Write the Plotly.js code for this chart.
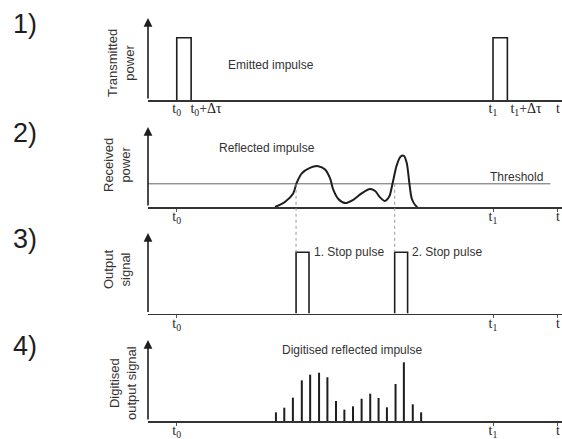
<!DOCTYPE html>
<html><head><meta charset="utf-8">
<script src="https://cdn.plot.ly/plotly-3.0.1.min.js"></script>
<style>html,body{margin:0;padding:0;background:#fff}#chart{width:562px;height:439px}</style>
</head><body><div id="chart"></div>
<script>
// ---- data (time in arbitrary units, signal in % of panel height) ----
const tRange = [0, 144];
const emitStarts = [10, 120];
const emitWidth = 5;
const emitHeight = 76;

const recvT = [44.2, 47.7, 50.5, 51.7, 53.5, 56.3, 59.2, 61.6, 63.3, 64.5, 66.2, 68.5, 71.4, 74.3, 77.2, 79.0, 80.7, 82.4, 83.9, 85.1, 86.5, 87.9, 89.0, 90.0, 90.9, 91.7, 92.9, 93.7];
const recvP = [0, 6.6, 17, 30, 42, 49, 51, 47, 36, 21, 10, 5, 9, 17, 22.5, 20, 12, 7.5, 13, 30, 52, 63, 64, 55, 30, 11, 2.5, 0];
const threshold = 29;
const thresholdEnd = 140;

const stopStarts = [51.5, 85.8];
const stopWidth = 4.5;
const stopHeight = 76;
const stopLabels = ['1. Stop pulse', '2. Stop pulse'];

const sampleT = [44.5, 47.4, 50.4, 53.5, 56.4, 59.5, 62.4, 65.4, 68.3, 71.3, 74.3, 77.3, 80.2, 83.1, 86.1, 89.0, 92.1, 95.0];
const sampleV = [10.7, 16.4, 28.8, 50.2, 57.2, 59.6, 54, 24.7, 14, 18.1, 27.5, 33.7, 28.4, 16.9, 45.7, 72.5, 20.6, 10.7];

const tick1Vals = [10, 20.2, 120, 131.5, 142.6];
const tick1Text = ['t<sub>0</sub>', 't<sub>0</sub>+Δτ', 't<sub>1</sub>', 't<sub>1</sub>+Δτ', 't'];
const tickVals = [10, 120, 142.6];
const tickText = ['t<sub>0</sub>', 't<sub>1</sub>', 't'];

const panelLabels = ['1)', '2)', '3)', '4)'];
const yTitles = ['Transmitted<br>power', 'Received<br>power', 'Output<br>signal', 'Digitised<br>output signal'];
const notes = ['Emitted impulse', 'Reflected impulse', 'Threshold', 'Digitised reflected impulse'];

// ---- layout helpers ----
const W = 562, H = 439, L = 148, R = 0;
const PW = W - L - R;
const px = p => (p - L) / PW;
const py = p => 1 - p / H;
// panel vertical extents in pixels [top, baseline]
const panels = [[18, 100], [127, 207], [233, 313.5], [340, 421]];
const domains = panels.map(p => [py(p[1]), py(p[0])]);
const yPaper = (i, v) => domains[i][0] + v / 100 * (domains[i][1] - domains[i][0]);

function pulsePath(starts, w, h) {
  const x = [], y = [];
  starts.forEach(s => { x.push(s, s, s + w, s + w, null); y.push(0, h, h, 0, null); });
  return {x, y};
}

const ink = '#1e1e1e';
const lineStyle = {color: ink, width: 1.6};
const traces = [];
const p1 = pulsePath(emitStarts, emitWidth, emitHeight);
traces.push({x: p1.x, y: p1.y, mode: 'lines', line: lineStyle, xaxis: 'x', yaxis: 'y', cliponaxis: false, hoverinfo: 'skip'});
traces.push({x: [tRange[0], thresholdEnd], y: [threshold, threshold], mode: 'lines', line: {color: '#666', width: 1}, xaxis: 'x2', yaxis: 'y2', hoverinfo: 'skip'});
traces.push({x: recvT, y: recvP, mode: 'lines', line: {color: ink, width: 2, shape: 'spline', smoothing: 0.8}, xaxis: 'x2', yaxis: 'y2', cliponaxis: false, hoverinfo: 'skip'});
const p3 = pulsePath(stopStarts, stopWidth, stopHeight);
traces.push({x: p3.x, y: p3.y, mode: 'lines', line: lineStyle, xaxis: 'x3', yaxis: 'y3', cliponaxis: false, hoverinfo: 'skip'});
traces.push({type: 'bar', x: sampleT, y: sampleV, width: 0.7, marker: {color: ink, line: {width: 0}}, xaxis: 'x4', yaxis: 'y4', hoverinfo: 'skip'});

const layout = {
  width: W, height: H,
  margin: {l: L, r: R, t: 0, b: 0},
  paper_bgcolor: '#fff', plot_bgcolor: '#fff',
  showlegend: false,
  font: {family: 'Liberation Sans, Arial, sans-serif', color: ink},
  annotations: [], shapes: []
};
for (let i = 0; i < 4; i++) {
  const s = i === 0 ? '' : String(i + 1);
  layout['xaxis' + s] = {
    domain: [0, 1], anchor: 'y' + s, range: tRange, fixedrange: true,
    showline: true, linecolor: '#333', linewidth: 1.6, showgrid: false, zeroline: false,
    tickmode: 'array', tickvals: i === 0 ? tick1Vals : tickVals, ticktext: i === 0 ? tick1Text : tickText,
    ticks: i === 0 ? '' : 'outside', ticklen: 3, tickcolor: '#555', tickwidth: 1,
    ticklabelstandoff: i === 0 ? -5 : -7,
    tickfont: {family: 'Liberation Serif, Times New Roman, serif', size: 14, color: ink}
  };
  layout['yaxis' + s] = {
    domain: domains[i], anchor: 'x' + s, range: [0, 100], fixedrange: true,
    showline: false, showgrid: false, zeroline: false, showticklabels: false, ticks: ''
  };
  // y axis with arrow
  layout.annotations.push({xref: 'x' + s, yref: 'y' + s, axref: 'x' + s, ayref: 'y' + s,
    x: 0, y: 100, ax: 0, ay: 0, text: '', showarrow: true, arrowhead: 2, arrowsize: 1.1, arrowwidth: 1.6, arrowcolor: ink, standoff: 0});
  layout.annotations.push({xref: 'paper', yref: 'paper', x: px(25), y: py((panels[i][0]) + 6), xanchor: 'center', yanchor: 'middle',
    text: panelLabels[i], showarrow: false, font: {size: 27, color: ink}});
}
// y titles
const yTitlePos = [[121, 63], [117, 165], [117, 270], [123, 383]];
yTitles.forEach((t, i) => layout.annotations.push({xref: 'paper', yref: 'paper', x: px(yTitlePos[i][0]), y: py(yTitlePos[i][1]),
  xanchor: 'center', yanchor: 'middle', textangle: -90, text: t, showarrow: false, font: {size: 13, color: '#333'}}));
// notes
const noteFont = {size: 12, color: '#333'};
layout.annotations.push({xref: 'x', yref: 'y', x: 42.8, y: 42.7, text: notes[0], showarrow: false, font: noteFont});
layout.annotations.push({xref: 'x2', yref: 'y2', x: 41.4, y: 73.8, text: notes[1], showarrow: false, font: noteFont});
layout.annotations.push({xref: 'x2', yref: 'y2', x: 128, y: 37.9, text: notes[2], showarrow: false, font: noteFont});
layout.annotations.push({xref: 'x4', yref: 'y4', x: 71, y: 87.7, text: notes[3], showarrow: false, font: noteFont});
stopStarts.forEach((s, i) => layout.annotations.push({xref: 'x3', yref: 'y3', x: s + stopWidth + 0.9, y: stopHeight, xanchor: 'left', yanchor: 'middle',
  text: stopLabels[i], showarrow: false, font: noteFont}));
// dotted guides from threshold crossings to stop pulses
stopStarts.forEach(s => layout.shapes.push({type: 'line', xref: 'x3', yref: 'paper', x0: s, x1: s,
  y0: yPaper(1, threshold), y1: yPaper(2, stopHeight), line: {color: '#999', width: 1, dash: 'dot'}}));

Plotly.newPlot('chart', traces, layout, {staticPlot: true, displayModeBar: false});
</script>
</body></html>
